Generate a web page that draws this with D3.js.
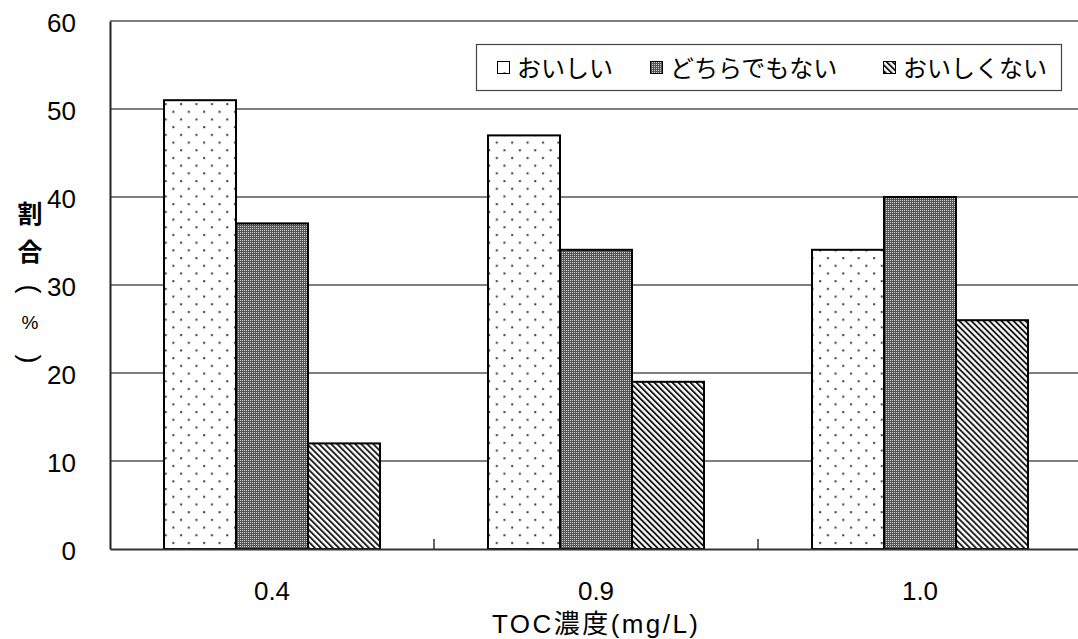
<!DOCTYPE html>
<html>
<head>
<meta charset="utf-8">
<script src="https://cdn.jsdelivr.net/npm/d3@7"></script>
<style>
  body { margin: 0; background: #fff; }
  text { font-family: "Liberation Sans", "Noto Sans CJK JP", sans-serif; fill: #000; }
</style>
</head>
<body>
<div id="chart"></div>
<script>
// categories and series
const categories = ["0.4", "0.9", "1.0"];
const seriesNames = ["おいしい", "どちらでもない", "おいしくない"];
const oishii = [51, 47, 34];
const dochira = [37, 34, 40];
const mazui = [12, 19, 26];
const yTicks = [0, 10, 20, 30, 40, 50, 60];
const xTitle = "TOC濃度(mg/L)";
const yTitle = ["割", "合", "(", "%", ")"];

const series = [oishii, dochira, mazui];
const patternIds = ["pat-dots", "pat-check", "pat-hatch"];

const width = 1078, height = 639;
const margin = { top: 21, left: 110 };
const fontStack = "'Liberation Sans', 'Noto Sans CJK JP', sans-serif";

const svg = d3.select("#chart")
    .append("svg")
    .attr("width", width)
    .attr("height", height)
    .style("display", "block");

// fill patterns
const defs = svg.append("defs");

const dots = defs.append("pattern")
    .attr("id", "pat-dots")
    .attr("patternUnits", "userSpaceOnUse")
    .attr("width", 15.4).attr("height", 15.4);
dots.append("rect").attr("width", 15.4).attr("height", 15.4).attr("fill", "#fff");
dots.append("rect").attr("x", 3).attr("y", 3).attr("width", 2).attr("height", 2).attr("fill", "#3a3a3a");
dots.append("rect").attr("x", 10.7).attr("y", 10.7).attr("width", 2).attr("height", 2).attr("fill", "#3a3a3a");

const check = defs.append("pattern")
    .attr("id", "pat-check")
    .attr("patternUnits", "userSpaceOnUse")
    .attr("width", 2).attr("height", 2);
check.append("rect").attr("width", 2).attr("height", 2).attr("fill", "#555");
check.append("rect").attr("width", 1).attr("height", 1).attr("fill", "#d0d0d0");

const hatch = defs.append("pattern")
    .attr("id", "pat-hatch")
    .attr("patternUnits", "userSpaceOnUse")
    .attr("width", 4.25).attr("height", 4.25)
    .attr("patternTransform", "rotate(-45)");
hatch.append("rect").attr("width", 4.25).attr("height", 4.25).attr("fill", "#fff");
hatch.append("rect").attr("x", 0).attr("width", 1.9).attr("height", 4.25).attr("fill", "#1a1a1a");

const plotW = 324 * categories.length;

const x = d3.scaleBand()
    .domain(categories)
    .range([margin.left, margin.left + plotW]);

const xSub = d3.scaleBand()
    .domain(d3.range(series.length))
    .range([0, x.bandwidth()])
    .paddingOuter(0.75)
    .paddingInner(0);

const y = d3.scaleLinear()
    .domain([0, 60])
    .range([549, margin.top]);

// gridlines
svg.append("g")
    .selectAll("line")
    .data(yTicks.filter(d => d > 0))
    .enter().append("line")
    .attr("x1", margin.left)
    .attr("x2", margin.left + plotW)
    .attr("y1", d => y(d))
    .attr("y2", d => y(d))
    .attr("stroke", "#000")
    .attr("stroke-width", 1.2);

// bars
categories.forEach((c, ci) => {
    series.forEach((s, si) => {
        svg.append("rect")
            .attr("x", x(c) + xSub(si))
            .attr("y", y(s[ci]))
            .attr("width", xSub.bandwidth())
            .attr("height", y(0) - y(s[ci]))
            .attr("fill", `url(#${patternIds[si]})`)
            .attr("stroke", "#000")
            .attr("stroke-width", 2);
    });
});

// y axis
const yAxis = svg.append("g")
    .attr("transform", `translate(${margin.left},0)`)
    .call(d3.axisLeft(y).tickValues(yTicks).tickSize(0).tickPadding(34));
yAxis.select(".domain").attr("stroke", "#222").attr("stroke-width", 2);
yAxis.selectAll("text").style("font-size", "26px").style("font-family", fontStack)
    .attr("dy", "0.4em");

// x axis
const xAxis = svg.append("g")
    .attr("transform", `translate(0,${y(0)})`)
    .call(d3.axisBottom(x).tickSize(0).tickPadding(33));
xAxis.select(".domain").attr("stroke", "#333").attr("stroke-width", 2);
xAxis.selectAll("text").style("font-size", "26px").style("font-family", fontStack);

// category separator ticks (inside)
svg.append("g")
    .selectAll("line")
    .data(categories.slice(1))
    .enter().append("line")
    .attr("x1", d => x(d))
    .attr("x2", d => x(d))
    .attr("y1", y(0) - 10)
    .attr("y2", y(0))
    .attr("stroke", "#000")
    .attr("stroke-width", 1.2);

// axis titles
svg.append("text")
    .attr("x", 492)
    .attr("y", 633)
    .attr("textLength", 206)
    .attr("lengthAdjust", "spacing")
    .style("font-size", "26px")
    .text(xTitle);

// vertical y title: characters stacked, parentheses turned sideways
const yTitleCenters = [212, 250, 289, 322, 359];
svg.append("g")
    .selectAll("text")
    .data(yTitle)
    .enter().append("text")
    .attr("x", 0)
    .attr("y", 0)
    .attr("text-anchor", "middle")
    .attr("dominant-baseline", "central")
    .attr("transform", (d, i) => `translate(30,${yTitleCenters[i]})` + (i === 2 || i === 4 ? " rotate(90)" : ""))
    .style("font-family", (d, i) => i < 2 ? "'Noto Sans CJK JP', sans-serif" : fontStack)
    .style("font-size", (d, i) => i === 3 ? "19px" : (i < 2 ? "25px" : "27px"))
    .style("font-weight", (d, i) => i < 2 ? "bold" : "normal")
    .text(d => d);

// legend
const legend = svg.append("g");
legend.append("rect")
    .attr("x", 476.5).attr("y", 44.5)
    .attr("width", 585).attr("height", 46)
    .attr("fill", "#fff")
    .attr("stroke", "#444")
    .attr("stroke-width", 1.2);

const legendX = [497, 650, 883];
seriesNames.forEach((name, i) => {
    legend.append("rect")
        .attr("x", legendX[i] + 0.5).attr("y", 61.5)
        .attr("width", 12).attr("height", 12)
        .attr("fill", `url(#${patternIds[i]})`)
        .attr("stroke", "#000")
        .attr("stroke-width", 1);
    legend.append("text")
        .attr("x", legendX[i] + 20)
        .attr("y", 77)
        .style("font-family", "'Noto Sans CJK JP', sans-serif")
        .style("font-size", "24px")
        .text(name);
});
</script>
</body>
</html>
